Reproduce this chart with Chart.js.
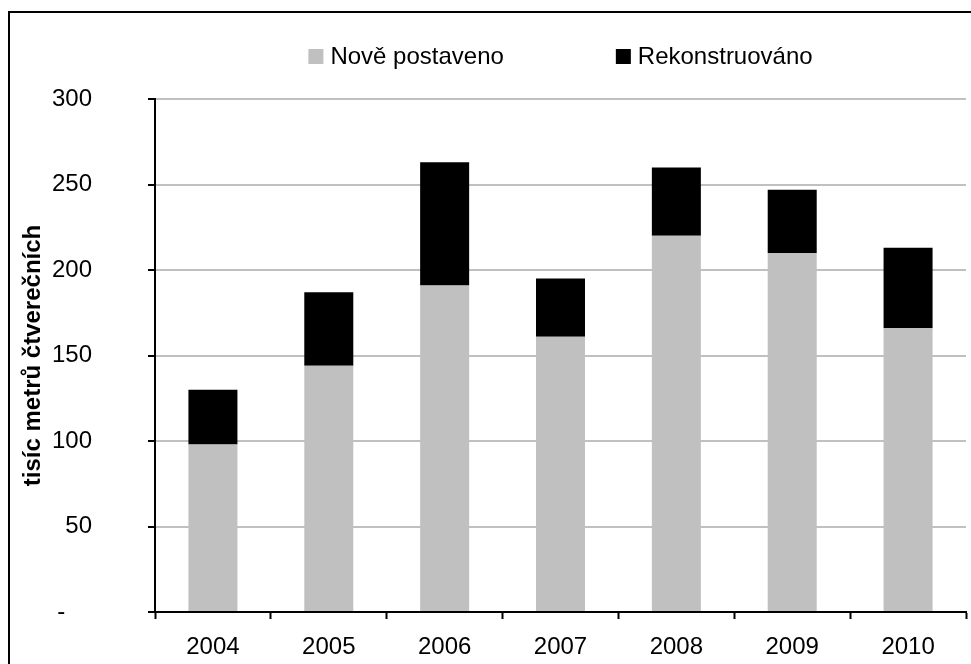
<!DOCTYPE html>
<html>
<head>
<meta charset="utf-8">
<script src="https://cdn.jsdelivr.net/npm/chart.js@4/dist/chart.umd.min.js"></script>
<style>
  html, body { margin: 0; padding: 0; background: #fff; }
  #wrap { width: 971px; height: 664px; }
</style>
</head>
<body>
<div id="wrap"><canvas id="c" width="971" height="664"></canvas></div>
<script>
// Plocha budov (tisíc m²) podle roku
const years = ['2004', '2005', '2006', '2007', '2008', '2009', '2010'];
const noveValues = [98, 144, 191, 161, 220, 210, 166];
const rekoValues = [32, 43, 72, 34, 40, 37, 47];
const yTickValues = [0, 50, 100, 150, 200, 250, 300];
const seriesNames = ['Nově postaveno', 'Rekonstruováno'];
const axisTitle = 'tisíc metrů čtverečních';

const FONT = 'Liberation Sans, Arial, sans-serif';
const FS = 24;

// Outer frame of the chart
const framePlugin = {
  id: 'frame',
  beforeDraw(chart) {
    const ctx = chart.ctx;
    ctx.save();
    ctx.fillStyle = '#fff';
    ctx.fillRect(0, 0, chart.width, chart.height);
    ctx.strokeStyle = '#000';
    ctx.lineWidth = 2;
    ctx.strokeRect(9, 12, 2000, 2000);
    ctx.restore();
  }
};

// Legend row centred above the plot area
const legendRow = {
  id: 'legendRow',
  afterDraw(chart) {
    const ctx = chart.ctx;
    const area = chart.chartArea;
    const box = 15, gapText = 7, gapItem = 112, y = 57;
    ctx.save();
    ctx.font = FS + 'px ' + FONT;
    const items = chart.data.datasets.map(ds => ({
      label: ds.label, color: ds.backgroundColor, w: ctx.measureText(ds.label).width
    }));
    let total = 0;
    items.forEach((it, i) => { total += box + gapText + it.w + (i ? gapItem : 0); });
    let x = (area.left + area.right) / 2 - total / 2;
    items.forEach(it => {
      ctx.fillStyle = it.color;
      ctx.fillRect(x, y - 8, box, box);
      ctx.fillStyle = '#000';
      ctx.textBaseline = 'middle';
      ctx.textAlign = 'left';
      ctx.fillText(it.label, x + box + gapText, y);
      x += box + gapText + it.w + gapItem;
    });
    ctx.restore();
  }
};

new Chart(document.getElementById('c'), {
  type: 'bar',
  data: {
    labels: years,
    datasets: [
      { label: seriesNames[0], data: noveValues, backgroundColor: '#c0c0c0',
        barPercentage: 0.423, categoryPercentage: 1.0 },
      { label: seriesNames[1], data: rekoValues, backgroundColor: '#000000',
        barPercentage: 0.423, categoryPercentage: 1.0 }
    ]
  },
  options: {
    responsive: false,
    animation: false,
    events: [],
    layout: { padding: { top: 99, right: 5, bottom: 0, left: 0 } },
    plugins: {
      legend: { display: false },
      tooltip: { enabled: false },
      title: { display: false }
    },
    scales: {
      x: {
        stacked: true,
        afterFit(scale) { scale.height = 52; },
        grid: { offset: true, drawOnChartArea: false, tickLength: 7, tickColor: '#000', tickWidth: 2 },
        border: { color: '#000', width: 2 },
        ticks: { color: '#000', font: { family: FONT, size: FS }, padding: 14, maxRotation: 0 }
      },
      y: {
        stacked: true,
        min: 0,
        max: 300,
        afterFit(scale) {
          scale.width = 155;
          // the wide label gap should not push the plot edges inward
          scale.paddingTop = 14;
          scale.paddingBottom = 14;
        },
        afterBuildTicks(scale) { scale.ticks = yTickValues.map(v => ({ value: v })); },
        grid: { color: '#c0c0c0', lineWidth: 2, tickLength: 7, tickColor: '#000', tickWidth: 2 },
        border: { color: '#000', width: 2 },
        ticks: {
          color: '#000',
          font: { family: FONT, size: FS },
          padding: 56,
          callback: v => (v === 0 ? '-    ' : String(v))
        },
        title: {
          display: true,
          text: axisTitle,
          color: '#000',
          font: { family: FONT, size: FS, weight: 'bold' },
          padding: { top: 19, bottom: 0 }
        }
      }
    }
  },
  plugins: [framePlugin, legendRow]
});
</script>
</body>
</html>
